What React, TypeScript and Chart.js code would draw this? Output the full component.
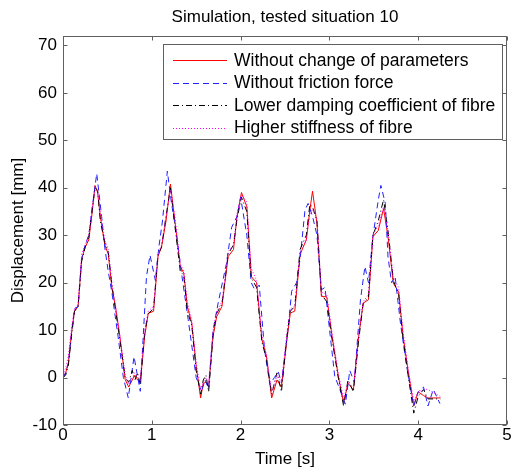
import React, { useEffect, useRef } from 'react';
import { Chart, registerables } from 'chart.js';

Chart.register(...registerables);

const TITLE = 'Simulation, tested situation 10';
const X_LABEL = 'Time [s]';
const Y_LABEL = 'Displacement [mm]';
const SERIES_NAMES = [
  'Without change of parameters',
  'Without friction force',
  'Lower damping coefficient of fibre',
  'Higher stiffness of fibre',
];

const xTicks = [0, 1, 2, 3, 4, 5];
const yTicks = [-10, 0, 10, 20, 30, 40, 50, 60, 70];

// shared time base for red, black and magenta series
const tShared = [
  0, 0.03, 0.06, 0.10, 0.13, 0.17, 0.21, 0.25, 0.29, 0.33,
  0.36, 0.39, 0.42, 0.47, 0.51, 0.55, 0.59, 0.64, 0.70, 0.74,
  0.78, 0.81, 0.84, 0.87, 0.92, 0.96, 1.02, 1.07, 1.11, 1.16,
  1.21, 1.26, 1.32, 1.36, 1.40, 1.45, 1.50, 1.55, 1.58, 1.61,
  1.64, 1.69, 1.73, 1.79, 1.86, 1.92, 1.96, 2.01, 2.07, 2.12,
  2.18, 2.24, 2.29, 2.35, 2.41, 2.46, 2.52, 2.56, 2.61, 2.67,
  2.74, 2.78, 2.81, 2.86, 2.91, 2.97, 3.03, 3.10, 3.16, 3.21,
  3.27, 3.33, 3.38, 3.44, 3.49, 3.55, 3.61, 3.66, 3.72, 3.78,
  3.83, 3.89, 3.95, 4.00, 4.06, 4.11, 4.25,
];

const vRed = [
  0, 1, 3, 10, 14, 15, 25, 27.5, 29, 35,
  40.5, 39, 34, 28, 26, 19, 15, 8.7, -0.4, -2,
  -0.5, 0.5, -0.5, -1, 8.7, 13.5, 14, 25.5, 27.6, 33,
  40.8, 33, 23.5, 22, 15, 11.5, 2.4, -4.3, -1.2, -1,
  -2, 8.7, 12.8, 15, 25.5, 27, 34, 39, 36, 21.3,
  20, 8, 4.6, -4.3, -0.5, -2, 7.7, 13.6, 14, 26,
  29, 35.3, 39.3, 32.5, 17.1, 17, 8.7, 0.3, -5.3, -1.2,
  -2.6, 8.7, 15.7, 16.4, 29.7, 31, 35.6, 29.7, 19.9, 18,
  8.7, 1, -6, -3, -3.8, -4.3, -4.3,
];

const vBlack = [
  0, 0.5, 2.5, 9.5, 14, 15, 24.5, 27.5, 29.5, 35.5,
  40, 39.5, 33, 28.5, 26.5, 19.5, 14.5, 8, 0, -1,
  1.5, -0.5, 1, -1.5, 9.5, 13.5, 14.5, 26, 27.5, 34,
  40, 32, 22.5, 21.5, 14, 11, 1.5, -3.5, -0.5, 0.5,
  -3, 9, 13.5, 15.5, 26, 28, 33.5, 38, 35, 21,
  19, 7.5, 4, -3.5, 1, -3, 8.5, 14, 15, 27,
  30, 36.5, 36, 33, 17.5, 16, 8, 0, -6, -0.5,
  -3, 8, 15.5, 17, 30, 33, 37.5, 31, 20.5, 17.5,
  8, 0, -7.5, -4, -2.5, -4.5, -4.5,
];

const vMagenta = [
  0.5, 2, 4.5, 11, 14.5, 15.5, 26, 28, 30, 36,
  39.5, 39.5, 35, 29, 27, 20, 15.5, 9, 0.5, -1.5,
  0, 1, 0, 0, 10, 14, 15, 26, 28, 34,
  39.5, 34, 24, 22.5, 16, 12, 3, -2.5, -1, 0,
  -1, 10, 14, 16, 26.5, 28, 34.5, 38.5, 37, 23,
  20.5, 9, 5, -3, 0.5, -1, 9, 14.5, 15, 26.5,
  29, 34.5, 35.5, 33.5, 18, 17.5, 9.5, 1, -4.5, -1,
  -2, 9.5, 16, 17.5, 30, 32, 36, 31, 21, 19,
  9.5, 1.5, -5, -3, -2.5, -2.5, -4,
];

const tBlue = [
  0, 0.03, 0.06, 0.10, 0.13, 0.17, 0.21, 0.25, 0.29, 0.33,
  0.38, 0.435, 0.47, 0.51, 0.55, 0.62, 0.68, 0.735, 0.80, 0.87,
  0.94, 0.98, 1.04, 1.08, 1.12, 1.175, 1.22, 1.28, 1.34, 1.41,
  1.50, 1.56, 1.60, 1.64, 1.69, 1.75, 1.84, 1.90, 1.96, 2.00,
  2.07, 2.12, 2.16, 2.21, 2.27, 2.33, 2.38, 2.425, 2.46, 2.54,
  2.575, 2.63, 2.67, 2.725, 2.76, 2.81, 2.86, 2.91, 2.95, 3.01,
  3.06, 3.18, 3.23, 3.28, 3.35, 3.40, 3.44, 3.49, 3.55, 3.58,
  3.63, 3.66, 3.70, 3.74, 3.80, 3.87, 3.95, 4.00, 4.06, 4.11,
  4.17, 4.245,
];

const vBlue = [
  0, 1, 3, 10, 14.5, 15, 25, 28, 30, 36,
  43, 34, 27.5, 22.3, 18, 8.7, 0, -4.3, 4.4, -2.9,
  21.3, 25.8, 20.5, 27.6, 33, 43.5, 37, 30, 21.3, 12.2,
  0, -2.9, -0.5, -2.3, 10, 16, 24, 31.7, 34, 38,
  30, 20, 18.5, 19.5, 5.8, -1.5, 0, 1.2, -1.2, 11.2,
  18.2, 20, 25, 35.3, 36.7, 34, 30, 18.5, 19, 8.7,
  0.3, -5.6, 1.5, -1, 16.4, 23.4, 20, 29.7, 37.4, 40.5,
  36.7, 25.4, 20, 21.3, 11.5, 2.4, -6, -3, -2, -6,
  -2.5, -5.5,
];

const FONT = '"Liberation Sans", Arial, Helvetica, sans-serif';
const COLORS = ['#ff0000', '#2020ff', '#000000', '#ff00ff'];
const DASHES: number[][] = [[], [6, 4], [6, 3, 1, 3], [1, 2]];
const AXIS_COLOR = '#606060';

const toPoints = (t: number[], v: number[]) => t.map((x, i) => ({ x, y: v[i] }));

const framePlugin = {
  id: 'matlabFrame',
  afterDraw(chart: any) {
    const { ctx, chartArea: a, scales } = chart;
    const xs = scales.x;
    const ys = scales.y;
    ctx.save();
    ctx.strokeStyle = AXIS_COLOR;
    ctx.lineWidth = 1;
    ctx.setLineDash([]);
    const L = Math.round(a.left) + 0.5;
    const R = Math.round(a.right) - 0.5;
    const T = Math.round(a.top) + 0.5;
    const B = Math.round(a.bottom) - 0.5;
    ctx.strokeRect(L, T, R - L, B - T);
    const tl = 4;
    ctx.beginPath();
    xTicks.forEach((v) => {
      const px = Math.round(xs.getPixelForValue(v)) + 0.5;
      ctx.moveTo(px, B);
      ctx.lineTo(px, B - tl);
      ctx.moveTo(px, T);
      ctx.lineTo(px, T + tl);
    });
    yTicks.forEach((v) => {
      const py = Math.round(ys.getPixelForValue(v)) + 0.5;
      ctx.moveTo(L, py);
      ctx.lineTo(L + tl, py);
      ctx.moveTo(R, py);
      ctx.lineTo(R - tl, py);
    });
    ctx.stroke();

    // legend
    const lx0 = 163.5, ly0 = 44.5, lx1 = 502.5, ly1 = 139.5;
    ctx.fillStyle = '#ffffff';
    ctx.fillRect(lx0, ly0, lx1 - lx0, ly1 - ly0);
    ctx.strokeStyle = AXIS_COLOR;
    ctx.strokeRect(lx0, ly0, lx1 - lx0, ly1 - ly0);
    const rows = [60, 82.5, 105, 127.5];
    ctx.font = `17.5px ${FONT}`;
    ctx.textBaseline = 'middle';
    ctx.textAlign = 'left';
    SERIES_NAMES.forEach((name, i) => {
      const y = Math.round(rows[i]) + 0.5;
      ctx.strokeStyle = COLORS[i];
      ctx.setLineDash(DASHES[i]);
      ctx.beginPath();
      ctx.moveTo(173, y);
      ctx.lineTo(227, y);
      ctx.stroke();
      ctx.setLineDash([]);
      ctx.fillStyle = '#000000';
      ctx.fillText(name, 234, rows[i] + 1);
    });

    // title
    ctx.font = `17px ${FONT}`;
    ctx.textAlign = 'center';
    ctx.fillStyle = '#000000';
    ctx.fillText(TITLE, (a.left + a.right) / 2, 17);
    ctx.restore();
  },
};

export default function App() {
  const canvasRef = useRef<HTMLCanvasElement | null>(null);

  useEffect(() => {
    if (!canvasRef.current) return;
    const tickFont = { family: FONT, size: 17 };
    const chart = new Chart(canvasRef.current, {
      type: 'line',
      data: {
        datasets: [
          { label: SERIES_NAMES[0], data: toPoints(tShared, vRed) },
          { label: SERIES_NAMES[1], data: toPoints(tBlue, vBlue) },
          { label: SERIES_NAMES[2], data: toPoints(tShared, vBlack) },
          { label: SERIES_NAMES[3], data: toPoints(tShared, vMagenta) },
        ].map((d, i) => ({
          ...d,
          borderColor: COLORS[i],
          backgroundColor: COLORS[i],
          borderWidth: 1,
          borderDash: DASHES[i],
          pointRadius: 0,
          fill: false,
          tension: 0,
          order: 3 - i,
        })),
      },
      options: {
        responsive: false,
        animation: false,
        events: [],
        layout: { padding: { top: 36, right: 5, left: 0, bottom: 0 } },
        plugins: {
          legend: { display: false },
          title: { display: false },
          tooltip: { enabled: false },
        },
        scales: {
          x: {
            type: 'linear',
            min: 0,
            max: 5,
            afterBuildTicks: (s: any) => {
              s.ticks = xTicks.map((v) => ({ value: v }));
            },
            afterFit: (s: any) => {
              s.height = 48;
            },
            grid: { display: false, drawTicks: false },
            border: { display: false },
            ticks: { padding: 0, color: '#000', font: tickFont, maxRotation: 0, autoSkip: false },
            title: { display: true, text: X_LABEL, color: '#000', font: tickFont, padding: { top: 0, bottom: 3 } },
          },
          y: {
            type: 'linear',
            min: -10,
            max: 72,
            afterBuildTicks: (s: any) => {
              s.ticks = yTicks.map((v) => ({ value: v }));
            },
            afterFit: (s: any) => {
              s.width = 63;
            },
            grid: { display: false, drawTicks: false },
            border: { display: false },
            ticks: { padding: 6, color: '#000', font: tickFont, autoSkip: false },
            title: { display: true, text: Y_LABEL, color: '#000', font: tickFont, padding: { top: 8, bottom: 0 } },
          },
        },
      } as any,
      plugins: [framePlugin],
    });
    return () => chart.destroy();
  }, []);

  return (
    <div style={{ position: 'absolute', left: 0, top: 0, width: 512, height: 473, background: '#fff' }}>
      <canvas ref={canvasRef} width={512} height={473} style={{ display: 'block' }} />
    </div>
  );
}
